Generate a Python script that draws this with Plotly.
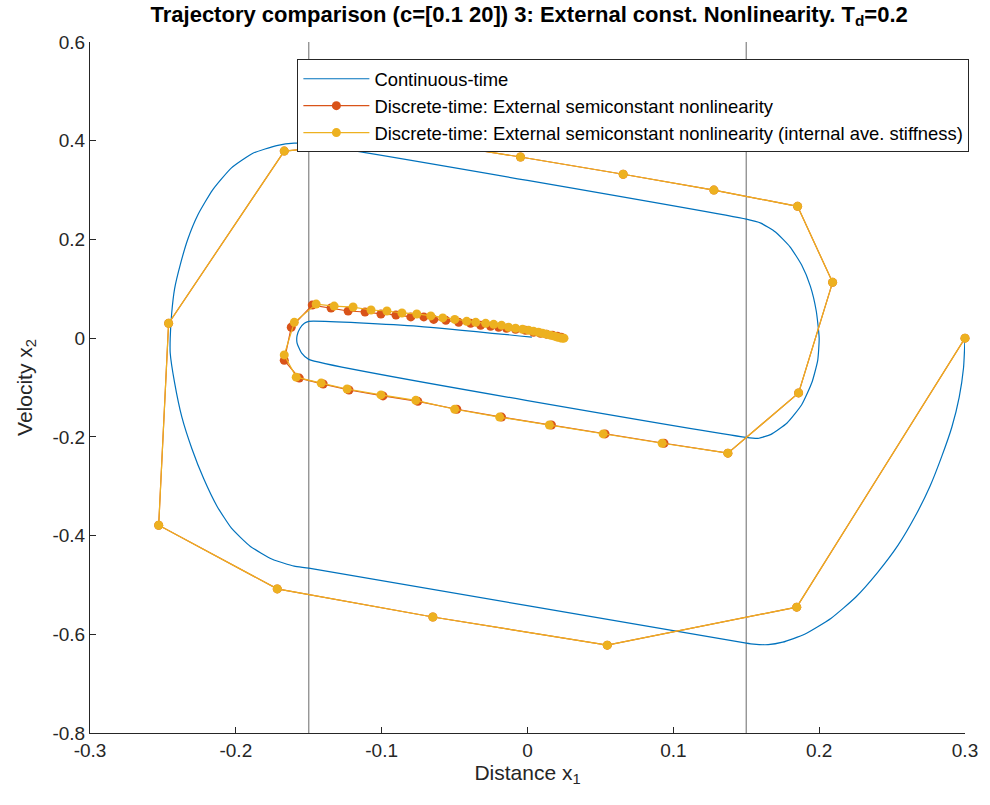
import plotly.graph_objects as go

# Continuous-time trajectory
ct_x = [0.300, 0.299, 0.296, 0.291, 0.284, 0.276, 0.266, 0.254, 0.240, 0.225, 0.208, 0.190, 0.175, 0.165, 0.155, 0.150,
        -0.150, -0.160, -0.175, -0.190, -0.203, -0.213, -0.222, -0.230, -0.237, -0.242, -0.245, -0.245,
        -0.244, -0.242, -0.238, -0.233, -0.226, -0.216, -0.203, -0.188, -0.172, -0.160, -0.150,
        0.150, 0.160, 0.170, 0.180, 0.188, 0.194, 0.198, 0.200, 0.199, 0.195, 0.188, 0.178, 0.167, 0.158, 0.150,
        -0.150, -0.155, -0.158, -0.158, -0.156, -0.153, -0.150, -0.0745, 0.003]
ct_y = [0.000, -0.060, -0.120, -0.180, -0.240, -0.300, -0.360, -0.420, -0.475, -0.525, -0.568, -0.600, -0.616, -0.621, -0.620, -0.618,
        -0.466, -0.462, -0.448, -0.422, -0.385, -0.340, -0.285, -0.225, -0.160, -0.090, -0.030, 0.000,
        0.050, 0.100, 0.150, 0.200, 0.250, 0.300, 0.345, 0.375, 0.390, 0.395, 0.394,
        0.241, 0.233, 0.215, 0.185, 0.148, 0.105, 0.055, 0.000, -0.045, -0.090, -0.135, -0.172, -0.195, -0.203, -0.201,
        -0.043, -0.030, -0.010, 0.005, 0.020, 0.030, 0.034, 0.024, 0.002]

# Discrete-time: External semiconstant nonlinearity
ext_x = [0.300, 0.1846, 0.0547, -0.0649, -0.1716, -0.2529, -0.2461, -0.1668, -0.0813, -0.0048,
         0.0656, 0.1278, 0.1852, 0.2092, 0.1859, 0.1374,
         0.0936, 0.0532, 0.0164, -0.0178, -0.0485, -0.0752, -0.0991, -0.1224, -0.1401, -0.1565,
         -0.1668, -0.1620, -0.1476, -0.1347, -0.1230, -0.1114, -0.1005, -0.0902, -0.0800, -0.0711,
         -0.0643, -0.0560, -0.0472, -0.0390, -0.0321, -0.0253, -0.0198, -0.0144, -0.0082, -0.0014,
         0.0041, 0.0089, 0.0130, 0.0171, 0.0205, 0.0232]
ext_y = [0.000, -0.545, -0.622, -0.565, -0.508, -0.379, 0.030, 0.379, 0.403, 0.367,
         0.332, 0.300, 0.267, 0.113, -0.111, -0.233,
         -0.213, -0.194, -0.176, -0.160, -0.144, -0.128, -0.117, -0.105, -0.093, -0.081,
         -0.045, 0.022, 0.067, 0.061, 0.055, 0.053, 0.049, 0.047, 0.043, 0.043,
         0.038, 0.036, 0.032, 0.030, 0.026, 0.024, 0.022, 0.020, 0.018, 0.016,
         0.012, 0.010, 0.008, 0.006, 0.004, 0.002]

# Discrete-time: External semiconstant nonlinearity (internal ave. stiffness)
int_x = [0.300, 0.1846, 0.0547, -0.0649, -0.1716, -0.2529, -0.2461, -0.1668, -0.0813, -0.0048,
         0.0656, 0.1278, 0.1852, 0.2092, 0.1859, 0.1374,
         0.0923, 0.0519, 0.0150, -0.0191, -0.0499, -0.0766, -0.1005, -0.1237, -0.1415, -0.1586,
         -0.1668, -0.1599, -0.1449, -0.1326, -0.1196, -0.1073, -0.0964, -0.0861, -0.0759, -0.0663,
         -0.0581, -0.0499, -0.0417, -0.0355, -0.0287, -0.0232, -0.0178, -0.0130, -0.0082, -0.0034,
         0.0007, 0.0041, 0.0075, 0.0103, 0.0130, 0.0157, 0.0185, 0.0205, 0.0226, 0.0239, 0.0250]
int_y = [0.000, -0.545, -0.622, -0.565, -0.508, -0.379, 0.030, 0.379, 0.403, 0.367,
         0.332, 0.300, 0.267, 0.113, -0.111, -0.233,
         -0.213, -0.194, -0.176, -0.160, -0.144, -0.126, -0.115, -0.103, -0.091, -0.079,
         -0.034, 0.032, 0.069, 0.065, 0.063, 0.057, 0.055, 0.051, 0.049, 0.045,
         0.041, 0.038, 0.034, 0.032, 0.030, 0.028, 0.026, 0.022, 0.020, 0.018,
         0.016, 0.014, 0.012, 0.010, 0.008, 0.006, 0.004, 0.002, 0.0005, 0.000, 0.000]

bound_x = [-0.15, 0.15]

x_ticks = [-0.3, -0.2, -0.1, 0, 0.1, 0.2, 0.3]
x_labels = ["-0.3", "-0.2", "-0.1", "0", "0.1", "0.2", "0.3"]
y_ticks = [-0.8, -0.6, -0.4, -0.2, 0, 0.2, 0.4, 0.6]
y_labels = ["-0.8", "-0.6", "-0.4", "-0.2", "0", "0.2", "0.4", "0.6"]

FONT = "Liberation Sans, Arial, Helvetica, sans-serif"
BLUE = "#0072BD"
RED = "#D95319"
YELLOW = "#EDB120"

fig = go.Figure()

for bx in bound_x:
    fig.add_trace(go.Scatter(x=[bx, bx], y=[-0.8, 0.6], mode="lines",
                             line=dict(color="#8c8c8c", width=1.3),
                             showlegend=False, hoverinfo="skip"))

fig.add_trace(go.Scatter(x=ct_x, y=ct_y, mode="lines", name="Continuous-time",
                         line=dict(color=BLUE, width=1.2, shape="spline", smoothing=0.5)))
fig.add_trace(go.Scatter(x=ext_x, y=ext_y, mode="lines+markers",
                         name="Discrete-time: External semiconstant nonlinearity",
                         line=dict(color=RED, width=1.2),
                         marker=dict(color=RED, size=9), cliponaxis=False))
fig.add_trace(go.Scatter(x=int_x, y=int_y, mode="lines+markers",
                         name="Discrete-time: External semiconstant nonlinearity (internal ave. stiffness)",
                         line=dict(color=YELLOW, width=1.2),
                         marker=dict(color=YELLOW, size=9), cliponaxis=False))

fig.update_layout(
    width=990, height=805,
    margin=dict(l=90, r=22, t=42, b=72),
    paper_bgcolor="white", plot_bgcolor="white",
    font=dict(family=FONT, size=19, color="#262626"),
    title=dict(text="<b>Trajectory comparison (c=[0.1 20]) 3: External const. Nonlinearity. T<sub>d</sub>=0.2</b>",
               x=0.5345, xanchor="center", y=0.992, yanchor="top",
               font=dict(family=FONT, size=22, color="black")),
    showlegend=True,
    legend=dict(x=0.237, xanchor="left", y=0.975, yanchor="top",
                bgcolor="white", bordercolor="#262626", borderwidth=1,
                font=dict(family=FONT, size=18.4, color="black"),
                itemwidth=66, tracegroupgap=0),
)

fig.update_xaxes(range=[-0.3, 0.3], tickvals=x_ticks, ticktext=x_labels,
                 ticks="inside", ticklen=6, tickcolor="#262626", showgrid=False, zeroline=False,
                 showline=True, linecolor="#262626", linewidth=1,
                 title=dict(text="Distance x<sub>1</sub>", font=dict(size=21, color="#262626"), standoff=4),
                 tickfont=dict(size=19, color="#262626"))
fig.update_yaxes(range=[-0.8, 0.6], tickvals=y_ticks, ticktext=y_labels,
                 ticks="inside", ticklen=6, tickcolor="#262626", showgrid=False, zeroline=False,
                 showline=True, linecolor="#262626", linewidth=1,
                 title=dict(text="Velocity x<sub>2</sub>", font=dict(size=21, color="#262626"), standoff=14),
                 tickfont=dict(size=19, color="#262626"))

fig.write_html("out.html")
